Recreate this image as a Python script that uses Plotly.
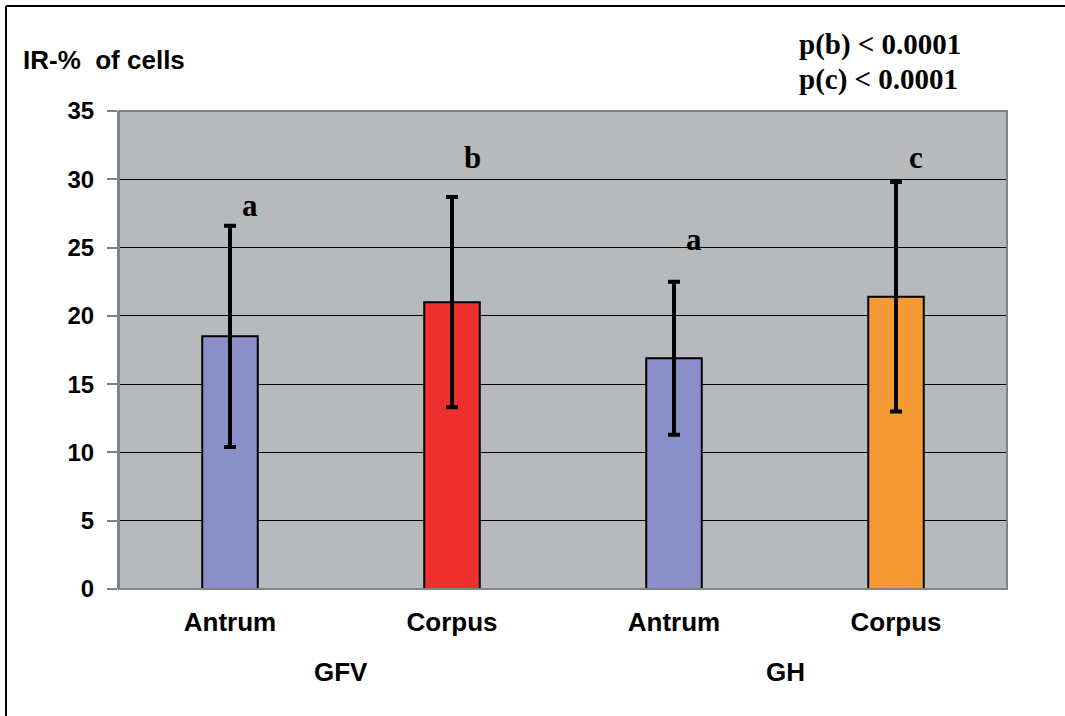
import plotly.graph_objects as go

# Immunoreactive cells (%) per stomach region and group
regions = ["Antrum", "Corpus", "Antrum", "Corpus"]
groups = ["GFV", "GH"]
means = [18.5, 21.0, 16.9, 21.4]
sds = [8.1, 7.7, 5.6, 8.4]
letters = ["a", "b", "a", "c"]
letter_y = [28.1, 31.6, 25.6, 31.6]
bar_colors = ["#8b91c8", "#ee2f2e", "#8b91c8", "#f69a33"]
y_ticks = [0, 5, 10, 15, 20, 25, 30, 35]

x_pos = list(range(len(regions)))

# plot area in pixels, used to place free text in paper units
L, R, T, B = 119, 1007, 111, 589
PW, PH = R - L, B - T


def px(x):
    return (x - L) / PW


def py(y):
    return (B - y) / PH


fig = go.Figure()
fig.add_trace(go.Bar(
    x=x_pos,
    y=means,
    width=0.25,
    marker=dict(color=bar_colors, line=dict(color="black", width=2)),
    error_y=dict(type="data", array=sds, visible=True, color="black",
                 thickness=4, width=6),
    showlegend=False,
))

annotations = []
for xi, lt, ly in zip(x_pos, letters, letter_y):
    annotations.append(dict(
        x=xi, y=ly, xref="x", yref="y", text=f"<b>{lt}</b>",
        showarrow=False, xshift=20,
        font=dict(family="Liberation Serif", size=31, color="black"),
    ))

# group labels under each pair of bars
for gi, g in enumerate(groups):
    annotations.append(dict(
        x=2 * gi + 0.5, y=py(672), xref="x", yref="paper", text=f"<b>{g}</b>",
        showarrow=False, yanchor="middle",
        font=dict(family="Liberation Sans", size=26, color="black"),
    ))

annotations.append(dict(
    x=px(21), y=py(60), xref="paper", yref="paper", text="<b>IR-%  of cells</b>",
    showarrow=False, xanchor="left", yanchor="middle",
    font=dict(family="Liberation Sans", size=26, color="black"),
))
annotations.append(dict(
    x=px(797), y=py(45), xref="paper", yref="paper",
    text="<b>p(b) &lt; 0.0001</b>",
    showarrow=False, xanchor="left", yanchor="middle",
    font=dict(family="Liberation Serif", size=29, color="black"),
))
annotations.append(dict(
    x=px(797), y=py(79), xref="paper", yref="paper",
    text="<b>p(c) &lt; 0.0001</b>",
    showarrow=False, xanchor="left", yanchor="middle",
    font=dict(family="Liberation Serif", size=29, color="black"),
))

fig.update_layout(
    width=1065, height=716,
    margin=dict(l=L, r=1065 - R, t=T, b=716 - B),
    paper_bgcolor="white",
    plot_bgcolor="#b7babc",
    annotations=annotations,
    shapes=[
        dict(type="line", xref="paper", yref="paper",
             x0=px(6), x1=px(1065), y0=py(6), y1=py(6),
             line=dict(color="black", width=2)),
        dict(type="line", xref="paper", yref="paper",
             x0=px(6), x1=px(6), y0=py(6), y1=py(716),
             line=dict(color="black", width=2)),
        dict(type="rect", xref="paper", yref="paper", x0=0, x1=1, y0=0, y1=1,
             line=dict(color="#7d8587", width=2), layer="above"),
    ],
)

fig.update_xaxes(
    tickmode="array", tickvals=x_pos, ticktext=[f"<b>{r}</b>" for r in regions],
    range=[-0.5, 3.5], showgrid=False, zeroline=False,
    tickfont=dict(family="Liberation Sans", size=26, color="black"),
    ticks="", ticklabelstandoff=15,
    showline=False,
)
fig.update_yaxes(
    range=[0, 35], tickmode="array", tickvals=y_ticks,
    ticktext=[f"<b>{v}</b>" for v in y_ticks],
    showgrid=True, gridcolor="black", gridwidth=1, zeroline=False,
    tickfont=dict(family="Liberation Sans", size=24, color="black"),
    ticks="outside", ticklen=10, tickcolor="#7d8587", tickwidth=1.5,
    ticklabelstandoff=8,
    showline=True, linecolor="#7d8587", linewidth=2,
)

fig.write_html("out.html")
